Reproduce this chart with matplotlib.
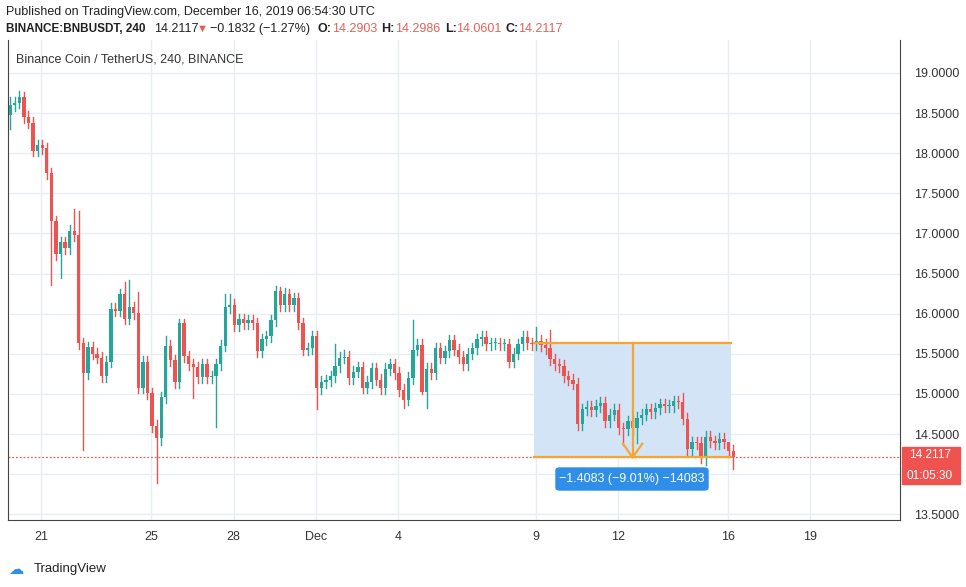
import matplotlib
matplotlib.use("Agg")
import matplotlib.pyplot as plt
from matplotlib.patches import Rectangle, FancyBboxPatch

plt.rcParams['font.family'] = ['Liberation Sans', 'DejaVu Sans']

closes = [18.60,18.63,18.70,18.45,18.38,18.03,18.10,18.06,17.75,17.15,16.74,16.89,16.82,17.03,16.98,15.63,
15.26,15.58,15.50,15.45,15.22,15.40,16.06,16.04,16.24,15.94,16.08,16.01,15.08,15.40,15.01,14.60,14.45,14.96,
15.60,15.42,15.15,15.88,15.47,15.37,15.33,15.21,15.37,15.21,15.22,15.37,15.60,16.08,16.11,15.86,15.93,15.88,
15.92,15.88,15.53,15.68,15.72,15.92,16.28,16.11,16.24,16.11,16.19,15.88,15.55,15.57,15.72,15.07,15.15,15.17,
15.22,15.35,15.45,15.46,15.20,15.28,15.33,15.08,15.15,15.32,15.18,15.07,15.31,15.37,15.26,15.05,14.93,15.20,
15.55,15.61,15.02,15.31,15.26,15.57,15.45,15.53,15.67,15.55,15.46,15.37,15.50,15.57,15.68,15.71,15.62,15.63,
15.63,15.62,15.62,15.40,15.50,15.62,15.71,15.63,15.62,15.66,15.61,15.57,15.43,15.37,15.35,15.22,15.18,15.13,
14.62,14.81,14.84,14.80,14.85,14.89,14.66,14.74,14.80,14.57,14.56,14.66,14.57,14.70,14.74,14.81,14.77,14.82,
14.87,14.85,14.85,14.91,14.90,14.69,14.31,14.40,14.39,14.21,14.47,14.41,14.39,14.44,14.40,14.29,14.2117]
first_open = 18.48
first_time = 19.86          # days from Nov 1
bar_days = 4 / 24
wick = 0.07
highs_known = {0:18.70, 3:18.76, 14:17.30, 15:17.28, 25:16.40, 26:16.42, 28:16.27, 34:15.72, 37:15.93,
               38:15.93, 47:16.25, 48:16.25, 59:16.33, 60:16.32, 63:16.26, 71:15.62, 73:15.55, 88:15.92,
               115:15.84, 118:15.80, 147:15.01, 157:14.2986}
lows_known = {0:18.30, 9:16.36, 11:16.44, 16:14.30, 32:13.89, 33:14.37, 40:14.95, 45:14.59, 67:14.81,
              86:14.83, 90:15.00, 91:14.82, 134:14.36, 137:14.39, 151:14.14, 152:14.12, 158:14.06}

xticks = [21, 25, 28, 31, 34, 39, 42, 46, 49]
xtick_labels = ["21", "25", "28", "Dec", "4", "9", "12", "16", "19"]
yticks = [13.5, 14.0, 14.5, 15.0, 15.5, 16.0, 16.5, 17.0, 17.5, 18.0, 18.5, 19.0]
hidden_ytick = 14.0   # covered by the price labels in the reference

GREEN = "#26a69a"; RED = "#ef5350"; GRID = "#e8edf1"

fig = plt.figure(figsize=(9.66, 5.87), dpi=100)
ax = fig.add_axes([8/966, 1-520/587, 892/966, 480/587])
ax.set_xlim(19.78, 52.27)
ax.set_ylim(13.43, 19.41)

opens = [first_open] + closes[:-1]
for i, (o, c) in enumerate(zip(opens, closes)):
    t = first_time + i * bar_days
    col = GREEN if c >= o else RED
    hi = highs_known.get(i, max(o, c) + wick)
    lo = lows_known.get(i, min(o, c) - wick)
    ax.plot([t, t], [lo, hi], color=col, lw=1, zorder=3)
    h = max(abs(c - o), 0.012)
    ax.add_patch(Rectangle((t - 0.06, min(o, c)), 0.12, h, color=col, zorder=4, lw=0))

# measurement box
x0, x1 = 38.93, 46.13
top, bot = 15.63, 14.21
ax.add_patch(Rectangle((x0, bot), x1 - x0, top - bot, color="#cfe2f7", alpha=0.9, zorder=1, lw=0))
ax.plot([x0, x1], [top, top], color="#f7a532", lw=1.6, zorder=5)
ax.plot([x0, x1], [bot, bot], color="#f7a532", lw=1.6, zorder=5)
xm = 42.53
ax.plot([xm, xm], [top, bot], color="#f7a532", lw=1.6, zorder=5)
ax.plot([xm - 0.35, xm, xm + 0.35], [bot + 0.17, bot, bot + 0.17], color="#f7a532", lw=1.6, zorder=5)
ax.axhline(closes[-1], color="#e0625a", lw=0.9, ls=(0, (1.5, 1.5)), zorder=2)

ax.set_xticks(xticks); ax.set_xticklabels(xtick_labels)
ax.set_yticks(yticks)
ax.yaxis.tick_right()
ax.set_yticklabels(["" if v == hidden_ytick else f"{v:.4f}" for v in yticks])
ax.grid(True, color=GRID, lw=1)
ax.set_axisbelow(True)
ax.tick_params(length=0, labelsize=9, colors="#333333", pad=8)
ax.tick_params(axis="y", pad=10)
ax.spines["top"].set_visible(False)
for s in ["left", "bottom", "right"]:
    ax.spines[s].set_color("#444444")

# label box
fig.patches.append(FancyBboxPatch((556/966, 1-490/587), 152/966, 22/587, boxstyle="round,pad=0,rounding_size=0.004",
                                  transform=fig.transFigure, color="#2e8ee8", zorder=10))
fig.text(632/966, 1-479/587, "\u22121.4083 (\u22129.01%) \u221214083", color="white", fontsize=9,
         ha="center", va="center", zorder=11)
fig.patches.append(Rectangle((902/966, 1-465/587), 58/966, 18/587, transform=fig.transFigure, color="#ef5350"))
fig.patches.append(Rectangle((902/966, 1-484/587), 58/966, 18/587, transform=fig.transFigure, color="#ef5350"))
fig.text(930/966, 1-455/587, "14.2117", color="white", fontsize=8.5, ha="center", va="center")
fig.text(930/966, 1-476/587, "01:05:30", color="white", fontsize=8.5, ha="center", va="center")

fig.text(6/966, 1-12/587, "Published on TradingView.com, December 16, 2019 06:54:30 UTC", fontsize=9, va="center", color="#222222")
line2 = [("BINANCE:BNBUSDT, 240", 6, "#222222", "bold", 8.5), ("14.2117", 154, "#222222", "normal", 9),
         ("\u25bc", 197, "#ef5350", "normal", 8), ("\u22120.1832 (\u22121.27%)", 210, "#222222", "normal", 9),
         ("O:", 318, "#222222", "bold", 9), ("14.2903", 332, "#e0625a", "normal", 9),
         ("H:", 381, "#222222", "bold", 9), ("14.2986", 395, "#e0625a", "normal", 9),
         ("L:", 445, "#222222", "bold", 9), ("14.0601", 456, "#e0625a", "normal", 9),
         ("C:", 505, "#222222", "bold", 9), ("14.2117", 518, "#e0625a", "normal", 9)]
for txt, xp, col, fw, fs in line2:
    fig.text(xp/966, 1-29/587, txt, fontsize=fs, va="center", color=col, fontweight=fw)
ax.text(0.009, 0.96, "Binance Coin / TetherUS, 240, BINANCE", transform=ax.transAxes, fontsize=9, color="#333333", va="center")
fig.text(34/966, 1-569/587, "TradingView", fontsize=9.5, va="center", color="#222222")
fig.text(8/966, 1-569/587, "\u2601", fontsize=11, va="center", color="#2e8ee8", family="DejaVu Sans")

fig.savefig("out.png", dpi=100)
